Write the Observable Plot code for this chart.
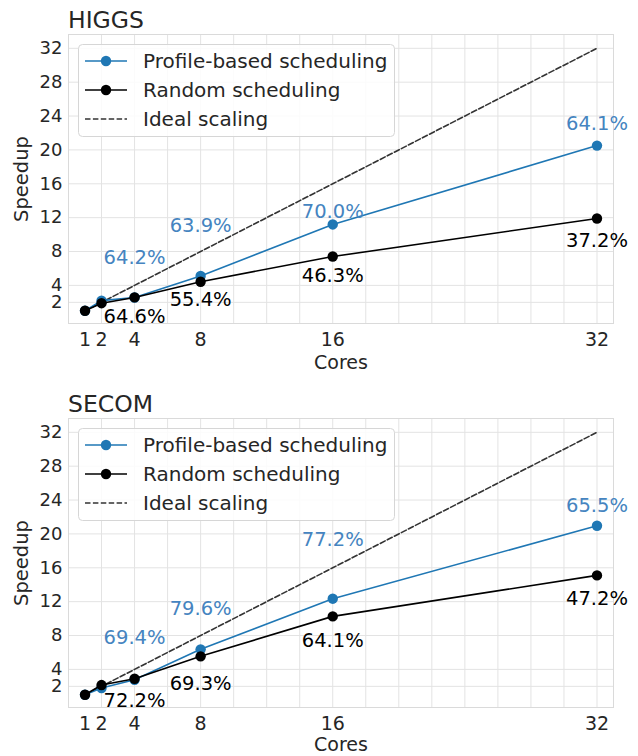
<!DOCTYPE html>
<html>
<head>
<meta charset="utf-8">
<script src="https://cdn.jsdelivr.net/npm/d3@7"></script>
<script src="https://cdn.jsdelivr.net/npm/@observablehq/plot@0.6"></script>
<style>
  body { margin: 0; background: #fff; font-family: "DejaVu Sans", sans-serif; }
  #root { position: relative; width: 638px; height: 756px; }
  .panel { position: absolute; left: 0; width: 638px; }
  .title { position: absolute; left: 68px; font-size: 23.5px; color: #262626; line-height: 1; }
  .legend { position: absolute; left: 78px; top: 44px; }
</style>
</head>
<body>
<div id="root"></div>
<script>
// ---- data ----
const cores = [1, 2, 4, 8, 16, 32];
const xTickLabels = [1, 2, 4, 8, 16, 32];
const yTickLabels = [2, 4, 8, 12, 16, 20, 24, 28, 32];
const idealSpeedup = [1, 2, 4, 8, 16, 32];

const higgsProfile = [1, 2.2, 2.57, 5.11, 11.2, 20.51];
const higgsRandom  = [1, 1.9, 2.58, 4.43, 7.41, 11.9];
const higgsProfileLabels = [null, null, "64.2%", "63.9%", "70.0%", "64.1%"];
const higgsRandomLabels  = [null, null, "64.6%", "55.4%", "46.3%", "37.2%"];

const secomProfile = [1, 1.8, 2.78, 6.37, 12.35, 20.96];
const secomRandom  = [1, 2.15, 2.89, 5.54, 10.26, 15.1];
const secomProfileLabels = [null, null, "69.4%", "79.6%", "77.2%", "65.5%"];
const secomRandomLabels  = [null, null, "72.2%", "69.3%", "64.1%", "47.2%"];

const seriesNames = ["Profile-based scheduling", "Random scheduling", "Ideal scaling"];

// ---- styling (label pixel offsets from their point) ----
const higgsProfileDy = [0, 0, -40, -50, -13, -22];
const higgsRandomDy  = [0, 0, 19, 18, 19, 22];
const secomProfileDy = [0, 0, -42, -41, -59, -20];
const secomRandomDy  = [0, 0, 22, 27, 24, 23];

const BLUE = "#1f77b4";
const BLUE_TEXT = "#4584c0";
const TEXT = "#262626";
const FONT = "DejaVu Sans";

function makePanel(top, height, title, prof, rand, profLab, randLab, profDy, randDy, coresDy) {
  const profData = cores.map((c, i) => ({c, v: prof[i]}));
  const randData = cores.map((c, i) => ({c, v: rand[i]}));
  const ideal = cores.map((c, i) => ({c, v: idealSpeedup[i]}));
  const labelMarks = [];
  cores.forEach((c, i) => {
    if (profLab[i]) labelMarks.push(Plot.text([{c, v: prof[i], t: profLab[i]}],
      {x: "c", y: "v", text: "t", dy: profDy[i], fill: BLUE_TEXT, fontSize: 19.5, lineAnchor: "middle"}));
    if (randLab[i]) labelMarks.push(Plot.text([{c, v: rand[i], t: randLab[i]}],
      {x: "c", y: "v", text: "t", dy: randDy[i], fill: "#000", fontSize: 19.5, lineAnchor: "middle"}));
  });
  const chart = Plot.plot({
    width: 638, height,
    marginLeft: 68, marginRight: 25, marginTop: 34, marginBottom: height - 323,
    x: {domain: [0, 33]},
    y: {domain: [-0.5, 33.63]},
    style: {fontFamily: FONT, fontSize: "19px", color: TEXT, background: "transparent", overflow: "visible"},
    marks: [
      Plot.gridX(d3.range(2, 33, 2), {stroke: "#e3e3e3", strokeOpacity: 1, strokeWidth: 1}),
      Plot.gridY(yTickLabels, {stroke: "#e3e3e3", strokeOpacity: 1, strokeWidth: 1}),
      Plot.frame({stroke: "#dadada", strokeWidth: 1}),
      Plot.axisX(xTickLabels, {tickSize: 0, tickPadding: 9, fontSize: 19, label: null, fill: TEXT}),
      Plot.axisY(yTickLabels, {tickSize: 0, tickPadding: 6, fontSize: 18, label: null, fill: TEXT}),
      Plot.text(["Speedup"], {frameAnchor: "left", dx: -47, rotate: -90, fontSize: 19.5, fill: TEXT, lineAnchor: "middle", textAnchor: "middle"}),
      Plot.text(["Cores"], {frameAnchor: "bottom", dy: coresDy, fontSize: 19, fill: TEXT, lineAnchor: "middle"}),
      Plot.line(ideal, {x: "c", y: "v", stroke: "#333", strokeWidth: 1.6, strokeDasharray: "5.5,2.4"}),
      Plot.line(profData, {x: "c", y: "v", stroke: BLUE, strokeWidth: 1.6}),
      Plot.dot(profData, {x: "c", y: "v", fill: BLUE, r: 5.2}),
      Plot.line(randData, {x: "c", y: "v", stroke: "#000", strokeWidth: 1.6}),
      Plot.dot(randData, {x: "c", y: "v", fill: "#000", r: 5.2}),
      ...labelMarks
    ]
  });
  const div = document.createElement("div");
  div.className = "panel";
  div.style.top = top + "px";
  div.style.height = height + "px";
  div.appendChild(chart);
  chart.style.position = "absolute";
  chart.style.left = "0px";
  chart.style.top = "0px";

  const t = document.createElement("div");
  t.className = "title";
  t.textContent = title;
  t.style.top = "9px";
  div.appendChild(t);

  // legend
  const lw = 317, lh = 93;
  const svg = d3.create("svg").attr("class", "legend").attr("width", lw).attr("height", lh)
    .style("font-family", FONT).style("font-size", "20px");
  svg.append("rect").attr("x", 0.5).attr("y", 0.5).attr("width", lw - 1).attr("height", lh - 1)
    .attr("rx", 4).attr("fill", "rgba(255,255,255,0.85)").attr("stroke", "#d6d6d6");
  const rows = [
    {name: seriesNames[0], color: BLUE, dash: null, marker: true},
    {name: seriesNames[1], color: "#000", dash: null, marker: true},
    {name: seriesNames[2], color: "#333", dash: "5.5,2.4", marker: false}
  ];
  rows.forEach((r, i) => {
    const y = 17 + i * 29;
    svg.append("line").attr("x1", 7).attr("x2", 49).attr("y1", y).attr("y2", y)
      .attr("stroke", r.color).attr("stroke-width", 1.5).attr("stroke-dasharray", r.dash);
    if (r.marker) svg.append("circle").attr("cx", 28).attr("cy", y).attr("r", 5.2).attr("fill", r.color);
    svg.append("text").attr("x", 65).attr("y", y).attr("dy", "0.35em").attr("fill", TEXT).text(r.name);
  });
  div.appendChild(svg.node());
  return div;
}

const root = document.getElementById("root");
root.appendChild(makePanel(0, 380, "HIGGS", higgsProfile, higgsRandom, higgsProfileLabels, higgsRandomLabels, higgsProfileDy, higgsRandomDy, 39));
root.appendChild(makePanel(384, 372, "SECOM", secomProfile, secomRandom, secomProfileLabels, secomRandomLabels, secomProfileDy, secomRandomDy, 37));
</script>
</body>
</html>
